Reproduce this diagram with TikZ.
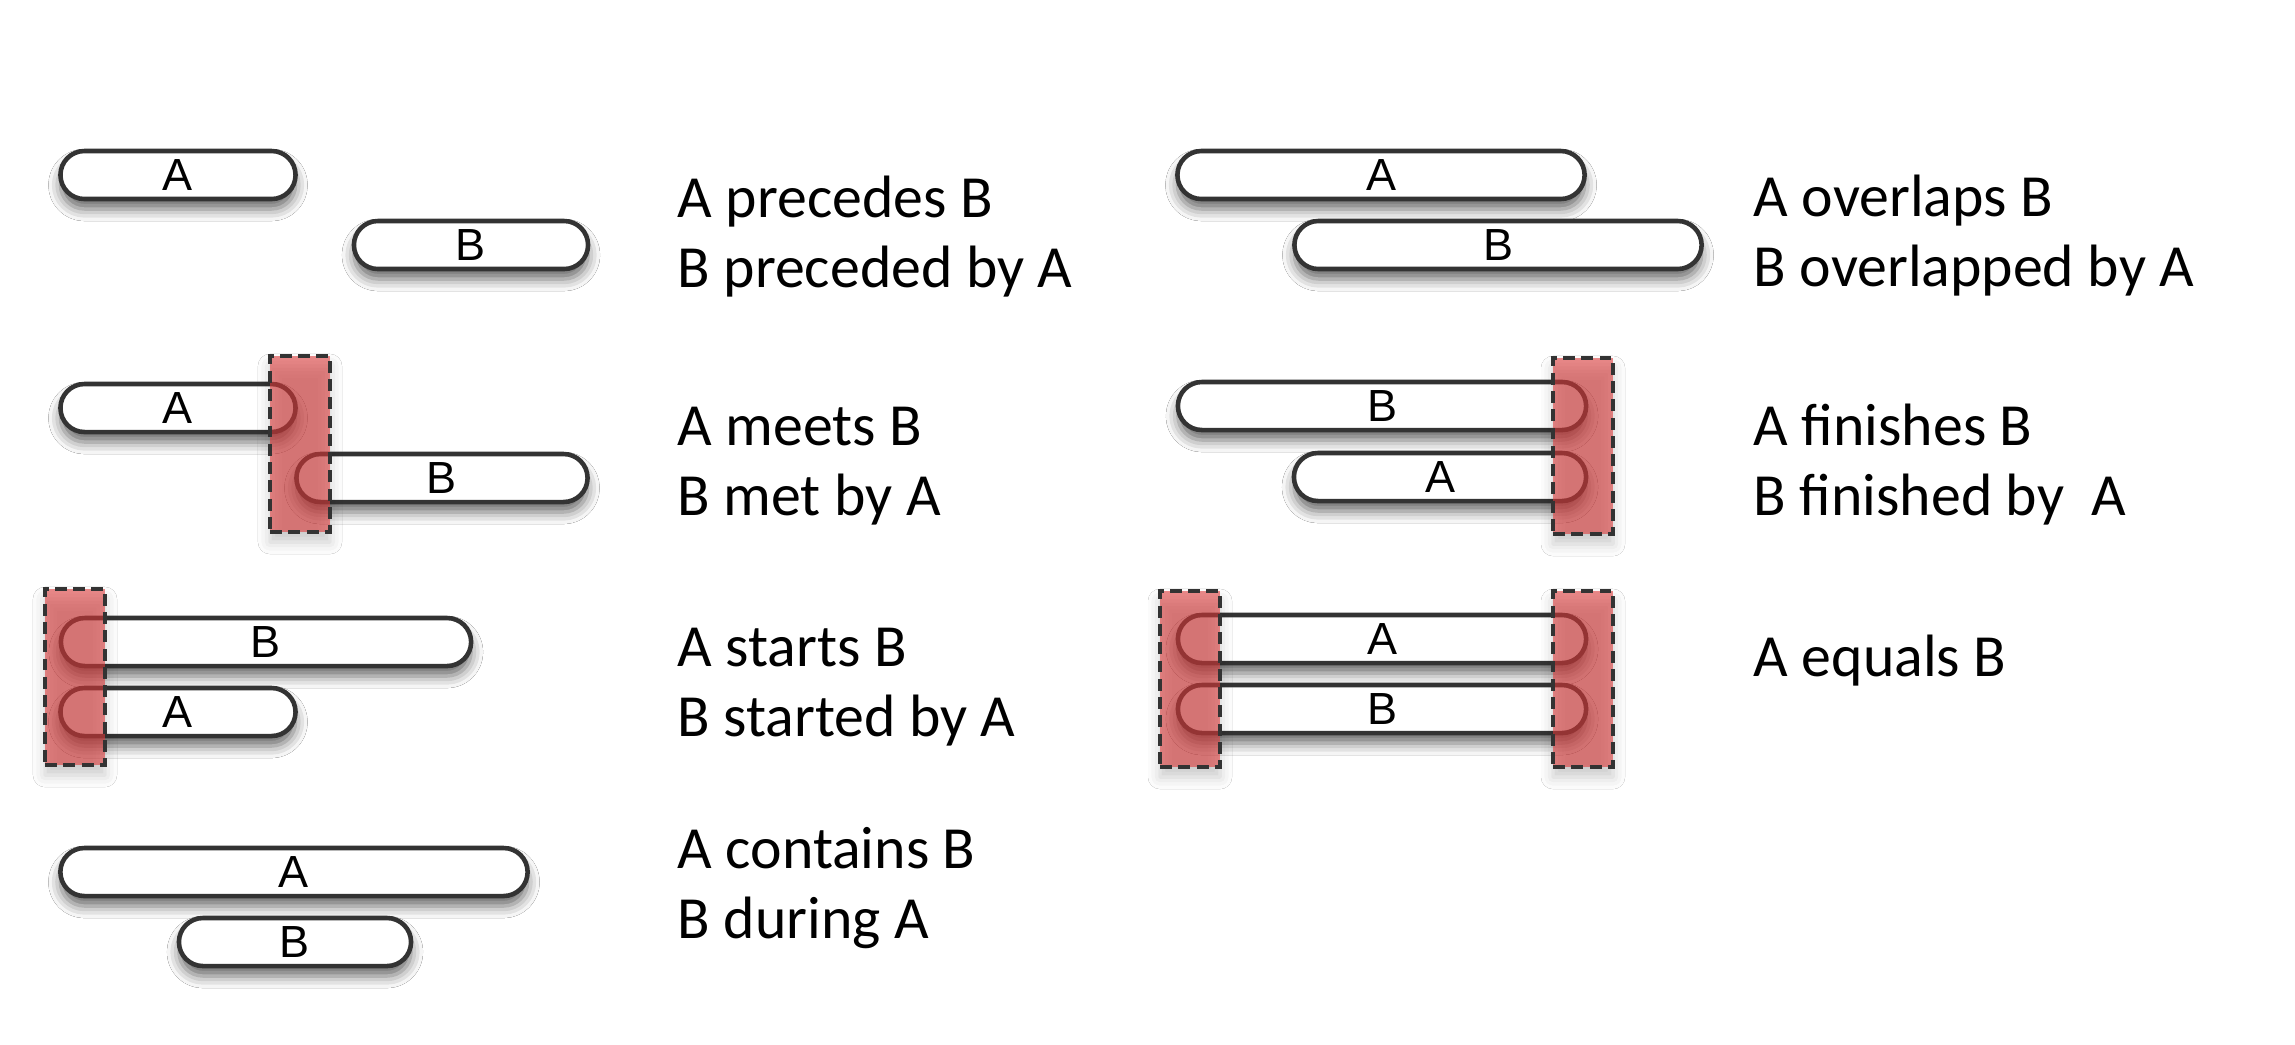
\documentclass[tikz,border=0pt]{standalone}
\usepackage{fontspec}
\setmainfont{Carlito}
\newfontfamily\barfont{Liberation Sans}
\usetikzlibrary{positioning, shadows.blur}
\definecolor{barline}{HTML}{333333}
\definecolor{markred}{HTML}{DC3C3C}

\tikzset{
  bar/.style={rectangle, draw=barline, line width=1.3pt, fill=white,
    rounded corners=0.24cm, minimum height=0.48cm, inner sep=0pt,
    font=\barfont\fontsize{12.8}{14}\selectfont,
    blur shadow={shadow xshift=0pt, shadow yshift=-0.1cm,
      shadow blur radius=0.12cm, shadow opacity=60}},
  endmark/.style={rectangle, draw=barline, line width=1.2pt,
    dash pattern=on 3.4pt off 1.8pt, fill=markred, fill opacity=0.6,
    minimum width=0.6cm, minimum height=1.76cm, inner sep=0pt,
    blur shadow={shadow xshift=0pt, shadow yshift=-0.1cm,
      shadow blur radius=0.12cm, shadow opacity=35}},
  rel/.style={anchor=base west, inner sep=0pt, font=\fontsize{17}{20}\selectfont}
}

\begin{document}
\begin{tikzpicture}[x=0.01cm, y=-0.01cm]
  \fill[white] (0,0) rectangle (2295,1044);
  \useasboundingbox (0,0) rectangle (2295,1044);

  % left column
  \node[bar, minimum width=2.35cm] (pA) at (178,175) {A};
  \node[bar, minimum width=2.34cm] (pB) at (471,245) {B};

  \node[bar, minimum width=2.35cm] (mA) at (178,408) {A};
  \node[bar, minimum width=2.91cm] (mB) at (442,478) {B};
  \node[endmark] (mMark) at (300,444) {};

  \node[bar, minimum width=4.10cm] (sB) at (266,642) {B};
  \node[bar, minimum width=2.35cm] (sA) at (178,712) {A};
  \node[endmark] (sMark) at (75,677) {};

  \node[bar, minimum width=4.67cm] (cA) at (294,872) {A};
  \node[bar, minimum width=2.32cm] (cB) at (295,942) {B};

  % right column
  \node[bar, minimum width=4.07cm] (oA) at (1381,175) {A};
  \node[bar, minimum width=4.07cm] (oB) at (1498,245) {B};

  \node[bar, minimum width=4.08cm] (fB) at (1382,406) {B};
  \node[bar, minimum width=2.92cm] (fA) at (1440,477) {A};
  \node[endmark] (fMark) at (1583,446) {};

  \node[bar, minimum width=4.08cm] (eA) at (1382,639) {A};
  \node[bar, minimum width=4.08cm] (eB) at (1382,709) {B};
  \node[endmark] (eMarkL) at (1190,679) {};
  \node[endmark] (eMarkR) at (1583,679) {};

  % relation names
  \node[rel] (pre1) at (677,217) {A precedes B};
  \node[rel] (pre2) at ([yshift=-0.70cm]pre1.base west) {B preceded by A};
  \node[rel] (meet1) at (677,445) {A meets B};
  \node[rel] (meet2) at ([yshift=-0.70cm]meet1.base west) {B met by A};
  \node[rel] (start1) at (677,666) {A starts B};
  \node[rel] (start2) at ([yshift=-0.70cm]start1.base west) {B started by A};
  \node[rel] (cont1) at (677,868) {A contains B};
  \node[rel] (cont2) at ([yshift=-0.70cm]cont1.base west) {B during A};

  \node[rel] (over1) at (1753,216) {A overlaps B};
  \node[rel] (over2) at ([yshift=-0.70cm]over1.base west) {B overlapped by A};
  \node[rel] (fin1) at (1753,445) {A finishes B};
  \node[rel] (fin2) at ([yshift=-0.70cm]fin1.base west) {B finished by~ A};
  \node[rel] (eq1) at (1753,676) {A equals B};
\end{tikzpicture}
\end{document}
